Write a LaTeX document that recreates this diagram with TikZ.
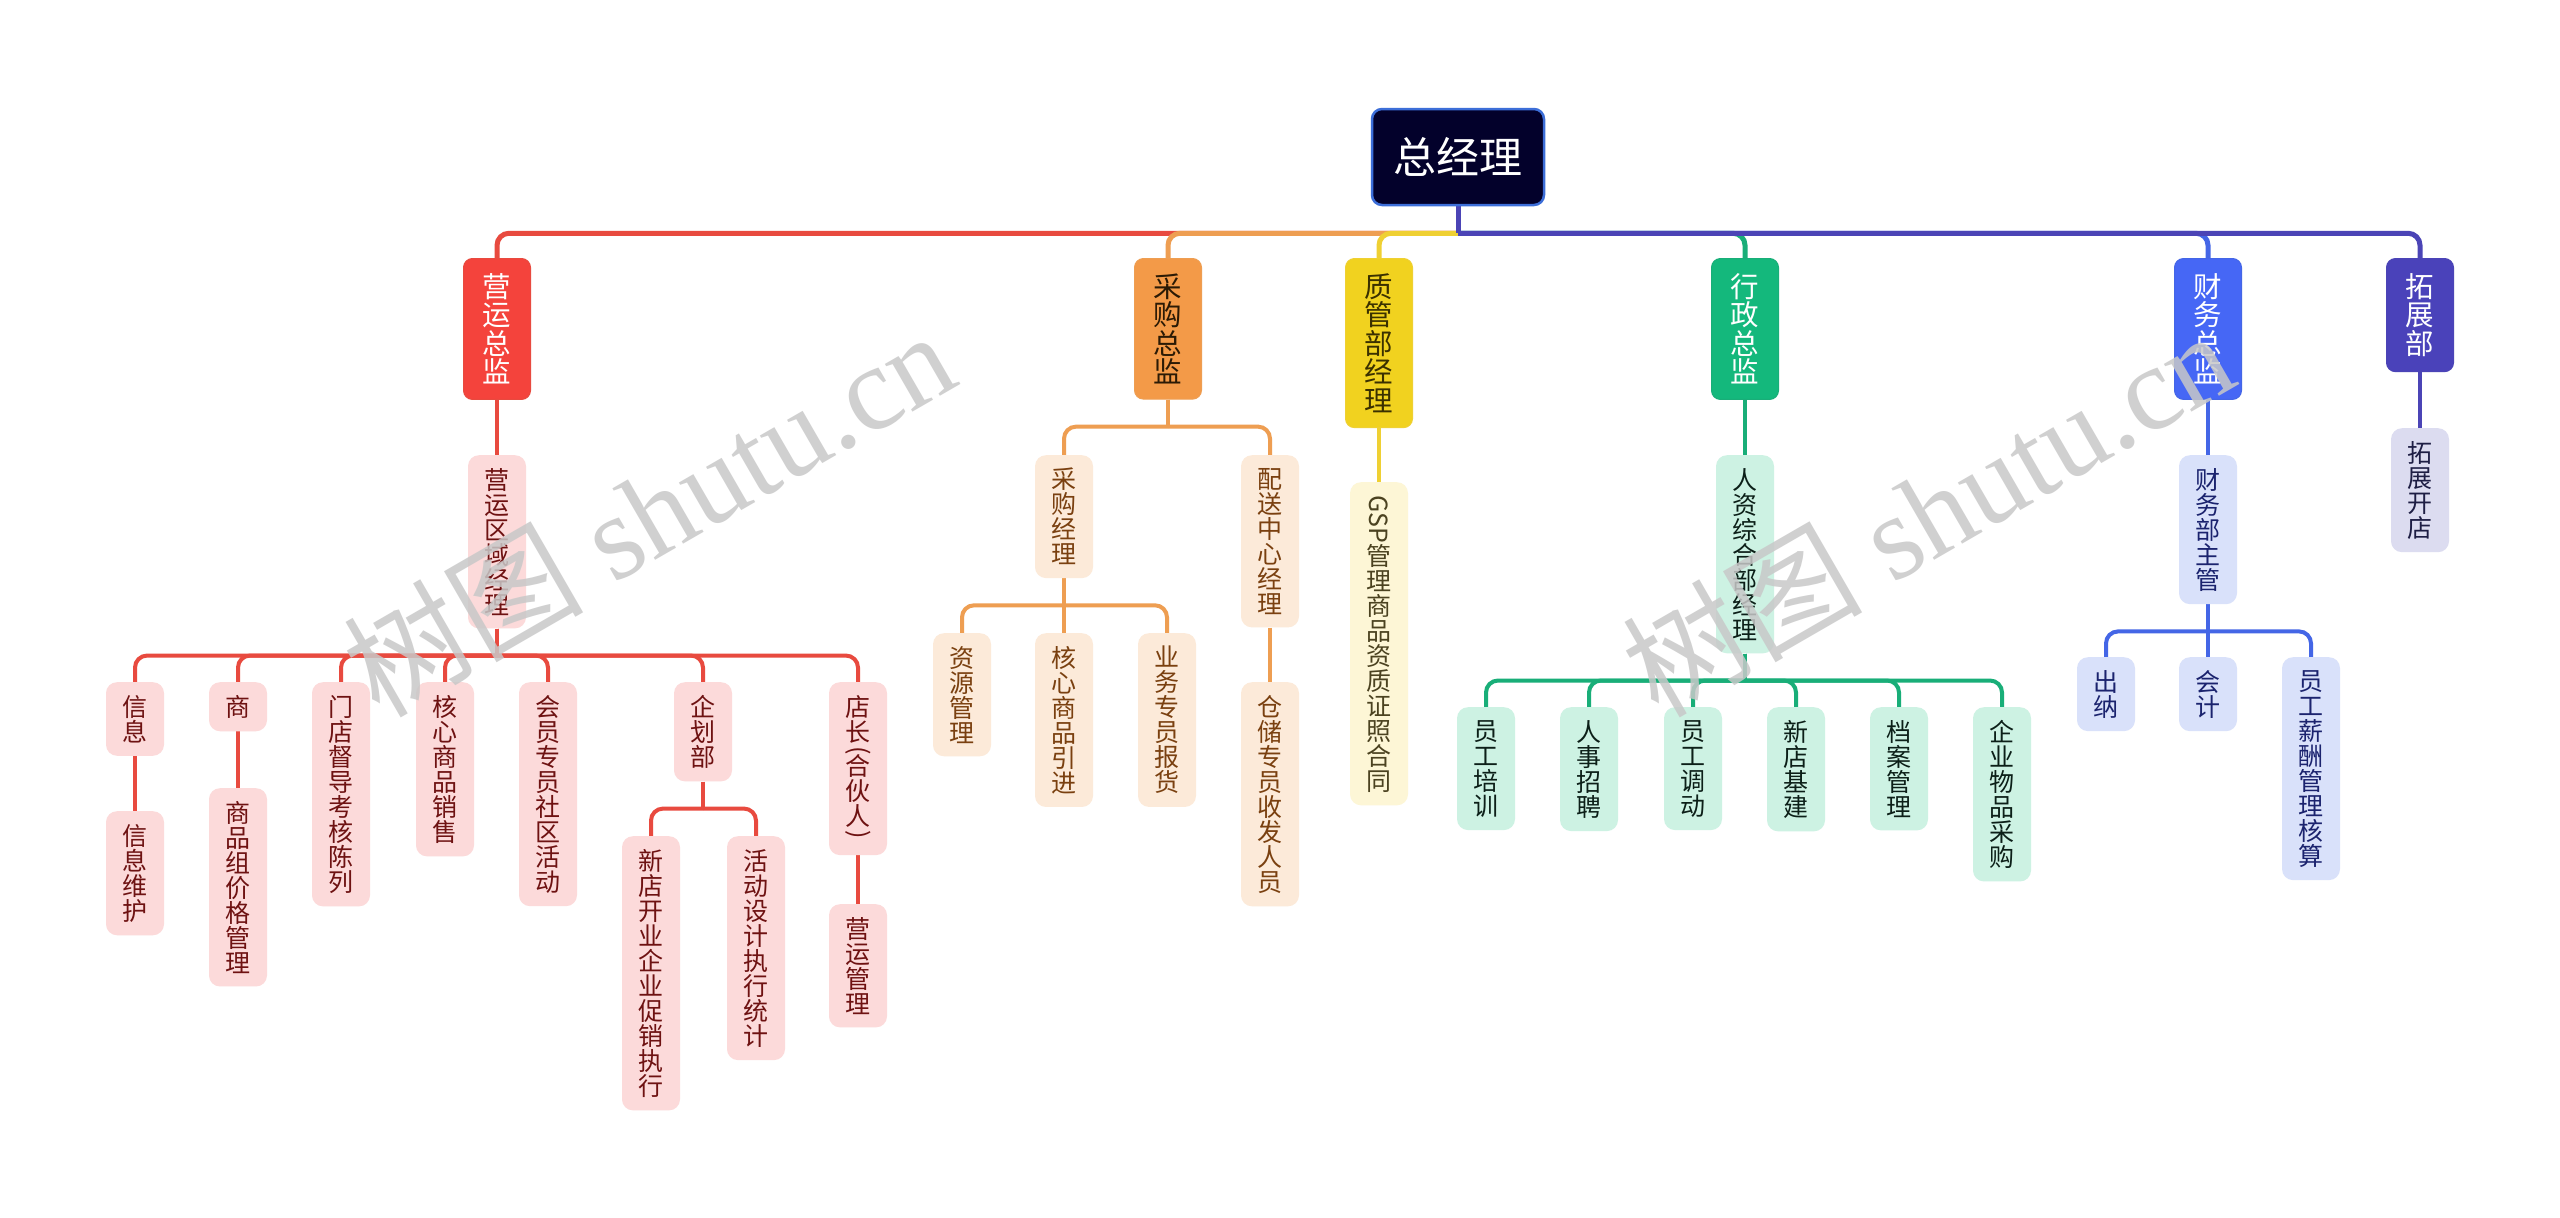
\documentclass[tikz,border=0pt]{standalone}
\usepackage{fontspec}
\newfontfamily\cjk{Noto Sans CJK SC}
\newfontfamily\wmlat{Liberation Serif}
\usetikzlibrary{calc}
\pgfdeclarelayer{bg}
\pgfdeclarelayer{fg}
\pgfsetlayers{bg,main,fg}
\definecolor{rootfill}{HTML}{03012B}
\definecolor{rootedge}{HTML}{3C6ED8}
\definecolor{lnR}{HTML}{E84A3F}
\definecolor{fR}{HTML}{F4433C}
\definecolor{lR}{HTML}{FCDADA}
\definecolor{tR}{HTML}{6E1212}
\definecolor{lnO}{HTML}{EE9E52}
\definecolor{fO}{HTML}{F39A48}
\definecolor{lO}{HTML}{FCEAD9}
\definecolor{tO}{HTML}{7A4010}
\definecolor{tOd}{HTML}{2B1A05}
\definecolor{lnY}{HTML}{EFD033}
\definecolor{fY}{HTML}{F1D21F}
\definecolor{lY}{HTML}{FDF6D6}
\definecolor{tY}{HTML}{4B4220}
\definecolor{tYd}{HTML}{3A3000}
\definecolor{lnG}{HTML}{19AE78}
\definecolor{fG}{HTML}{14B87C}
\definecolor{lG}{HTML}{CDF2E3}
\definecolor{tG}{HTML}{0C1F18}
\definecolor{lnB}{HTML}{4466E6}
\definecolor{fB}{HTML}{4667F5}
\definecolor{lB}{HTML}{D9E1FA}
\definecolor{tB}{HTML}{1B236E}
\definecolor{lnP}{HTML}{4B44B6}
\definecolor{fP}{HTML}{4A42BA}
\definecolor{lP}{HTML}{DCDCF0}
\definecolor{tP}{HTML}{1E1E44}
\definecolor{wm}{HTML}{C8C8C8}
\tikzset{
  rootbox/.style={draw=rootedge, line width=2.5pt, fill=rootfill, text=white,
    rounded corners=10pt, minimum width=172pt, minimum height=96pt,
    font=\cjk\fontsize{43}{43}\selectfont},
  lone/.style={anchor=north, align=center, rounded corners=9pt, minimum width=67pt,
    inner xsep=0pt, inner ysep=15pt, line width=1pt,
    font=\cjk\fontsize{28.5}{28.5}\selectfont},
  ltwo/.style={anchor=north, align=center, rounded corners=11pt, minimum width=58pt,
    inner xsep=0pt, inner ysep=13pt,
    font=\cjk\fontsize{25}{25}\selectfont},
  rtwo/.style={ltwo, fill=lR, text=tR},
  otwo/.style={ltwo, fill=lO, text=tO},
  ytwo/.style={ltwo, fill=lY, text=tY},
  gtwo/.style={ltwo, fill=lG, text=tG},
  btwo/.style={ltwo, fill=lB, text=tB},
  ptwo/.style={ltwo, fill=lP, text=tP},
  cA/.style={line width=5pt},
  cB/.style={line width=4pt},
  wmark/.style={rotate=30, text=wm, opacity=0.85, font=\wmlat\fontsize{120}{120}\selectfont},
}
\newcommand{\kconn}[3]{%
  \draw[#1] (#2.south) -- ($(#2.south)+(0,27)$);
  \draw[#1,rounded corners=12pt] ($(#2.south)+(0,27)$) -| (#3.north);}
\newcommand{\rp}[1]{\rotatebox[origin=c]{-90}{#1}}
\begin{document}
\begin{tikzpicture}[x=1pt,y=-1pt]
\useasboundingbox (0,0) rectangle (2560,1218);

% root
\node[rootbox] (root) at (1458,157) {总经理};

% level 1
\node[lone, fill=fR, draw=lnR, text=white] (yy) at (497,258) {营\\运\\总\\监};
\node[lone, fill=fO, draw=lnO, text=tOd] (cg) at (1168,258) {采\\购\\总\\监};
\node[lone, fill=fY, draw=lnY, text=tYd] (zg) at (1379,258) {质\\管\\部\\经\\理};
\node[lone, fill=fG, draw=lnG, text=white] (xz) at (1745,258) {行\\政\\总\\监};
\node[lone, fill=fB, draw=lnB, text=white] (cw) at (2208,258) {财\\务\\总\\监};
\node[lone, fill=fP, draw=lnP, text=white] (tz) at (2420,258) {拓\\展\\部};

% 营运
\node[rtwo] (yyqy) at (497,455) {营\\运\\区\\域\\经\\理};
\node[rtwo] (xinxi) at (135,682) {信\\息};
\node[rtwo] (shang) at (238,682) {商};
\node[rtwo] (mendian) at (341,682) {门\\店\\督\\导\\考\\核\\陈\\列};
\node[rtwo] (hexin) at (445,682) {核\\心\\商\\品\\销\\售};
\node[rtwo] (huiyuan) at (548,682) {会\\员\\专\\员\\社\\区\\活\\动};
\node[rtwo] (qihua) at (703,682) {企\\划\\部};
\node[rtwo] (dianzhang) at (858,682) {店\\长\\[-8pt]\rp{(}\\[-8pt]合\\伙\\人\\[-8pt]\rp{)}};
\node[rtwo] (xxwh) at (135,811) {信\\息\\维\\护};
\node[rtwo] (spzj) at (238,788) {商\\品\\组\\价\\格\\管\\理};
\node[rtwo] (xdky) at (651,836) {新\\店\\开\\业\\企\\业\\促\\销\\执\\行};
\node[rtwo] (hdsj) at (756,836) {活\\动\\设\\计\\执\\行\\统\\计};
\node[rtwo] (yygl) at (858,904) {营\\运\\管\\理};

% 采购
\node[otwo] (cgjl) at (1064,455) {采\\购\\经\\理};
\node[otwo] (psjl) at (1270,455) {配\\送\\中\\心\\经\\理};
\node[otwo] (zygl) at (962,633) {资\\源\\管\\理};
\node[otwo] (hxyj) at (1064,633) {核\\心\\商\\品\\引\\进};
\node[otwo] (ywbh) at (1167,633) {业\\务\\专\\员\\报\\货};
\node[otwo] (ccry) at (1270,682) {仓\\储\\专\\员\\收\\发\\人\\员};

% 质管
\node[ytwo] (gsp) at (1379,482) {\rp{GSP}\\管\\理\\商\\品\\资\\质\\证\\照\\合\\同};

% 行政
\node[gtwo] (rz) at (1745,455) {人\\资\\综\\合\\部\\经\\理};
\node[gtwo] (ygpx) at (1486,707) {员\\工\\培\\训};
\node[gtwo] (rszp) at (1589,707) {人\\事\\招\\聘};
\node[gtwo] (ygdd) at (1693,707) {员\\工\\调\\动};
\node[gtwo] (xdjj) at (1796,707) {新\\店\\基\\建};
\node[gtwo] (dagl) at (1899,707) {档\\案\\管\\理};
\node[gtwo] (qywp) at (2002,707) {企\\业\\物\\品\\采\\购};

% 财务
\node[btwo] (cwzg) at (2208,455) {财\\务\\部\\主\\管};
\node[btwo] (chuna) at (2106,657) {出\\纳};
\node[btwo] (kuaiji) at (2208,657) {会\\计};
\node[btwo] (ygxc) at (2311,657) {员\\工\\薪\\酬\\管\\理\\核\\算};

% 拓展
\node[ptwo] (tzkd) at (2420,428) {拓\\展\\开\\店};

\begin{pgfonlayer}{bg}
  \fill[white] (0,0) rectangle (2560,1218);
  \kconn{cA,lnR}{root}{yy}
  \kconn{cA,lnO}{root}{cg}
  \kconn{cA,lnY}{root}{zg}
  \kconn{cA,lnG}{root}{xz}
  \kconn{cA,lnB}{root}{cw}
  \kconn{cA,lnP}{root}{tz}

  \kconn{cB,lnR}{yy}{yyqy}
  \foreach \c in {xinxi,shang,mendian,hexin,huiyuan,qihua,dianzhang}{\kconn{cB,lnR}{yyqy}{\c}}
  \kconn{cB,lnR}{xinxi}{xxwh}
  \kconn{cB,lnR}{shang}{spzj}
  \kconn{cB,lnR}{qihua}{xdky}
  \kconn{cB,lnR}{qihua}{hdsj}
  \kconn{cB,lnR}{dianzhang}{yygl}

  \kconn{cB,lnO}{cg}{cgjl}
  \kconn{cB,lnO}{cg}{psjl}
  \foreach \c in {zygl,hxyj,ywbh}{\kconn{cB,lnO}{cgjl}{\c}}
  \kconn{cB,lnO}{psjl}{ccry}

  \kconn{cB,lnY}{zg}{gsp}

  \kconn{cB,lnG}{xz}{rz}
  \foreach \c in {ygpx,rszp,ygdd,xdjj,dagl,qywp}{\kconn{cB,lnG}{rz}{\c}}

  \kconn{cB,lnB}{cw}{cwzg}
  \foreach \c in {chuna,kuaiji,ygxc}{\kconn{cB,lnB}{cwzg}{\c}}

  \kconn{cB,lnP}{tz}{tzkd}
\end{pgfonlayer}

\begin{pgfonlayer}{fg}
  \node[wmark] (wmone) at (648,512) {{\cjk 树图} shutu.cn};
  \node[wmark] (wmtwo) at (1927,512) {{\cjk 树图} shutu.cn};
\end{pgfonlayer}
\end{tikzpicture}
\end{document}
